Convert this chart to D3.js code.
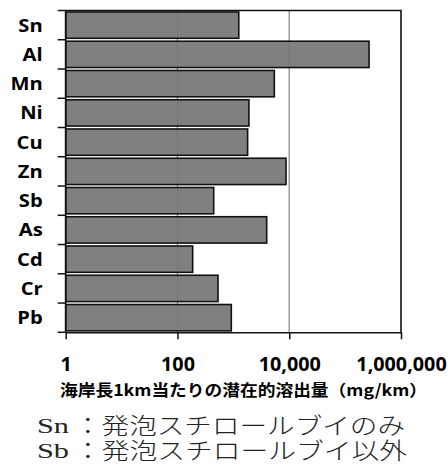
<!DOCTYPE html>
<html>
<head>
<meta charset="utf-8">
<script src="https://cdn.jsdelivr.net/npm/d3@7"></script>
<style>
  html, body { margin: 0; padding: 0; background: #fff; }
  svg { display: block; }
</style>
</head>
<body>
<svg id="chart" width="448" height="475"></svg>
<script>
// Potential leaching per 1 km of coastline, by element (log scale)
const categories = ["Sn", "Al", "Mn", "Ni", "Cu", "Zn", "Sb", "As", "Cd", "Cr", "Pb"];
const values = [1250, 268000, 5410, 1900, 1800, 8750, 445, 3950, 187, 531, 919];
const xTicks = [1, 100, 10000, 1000000];
const xTickLabels = ["1", "100", "10,000", "1,000,000"];
const axisTitle = "海岸長1km当たりの潜在的溶出量（mg/km）";
const noteKeys = ["Sn", "Sb"];
const noteTexts = ["：発泡スチロールブイのみ", "：発泡スチロールブイ以外"];

const svg = d3.select("#chart");
const plot = { left: 65.7, right: 401, top: 10.5, bottom: 332.3 };

const x = d3.scaleLog().domain([1, 1000000]).range([plot.left, plot.right]);
const y = d3.scaleBand().domain(categories)
  .range([plot.top, plot.bottom]).paddingInner(0.1).paddingOuter(0.05);

// widen a text run to the given horizontal factor
function stretch(sel, k) {
  sel.each(function () {
    const w = this.getComputedTextLength();
    d3.select(this).attr("textLength", w * k).attr("lengthAdjust", "spacingAndGlyphs");
  });
}

// vertical gridlines behind the bars
svg.append("g").selectAll("line")
  .data(xTicks.slice(1, -1)).join("line")
  .attr("x1", d => x(d)).attr("x2", d => x(d))
  .attr("y1", plot.top).attr("y2", plot.bottom)
  .attr("stroke", "#a6a6a6").attr("stroke-width", 1.5);

// bars
svg.append("g").selectAll("rect")
  .data(categories).join("rect")
  .attr("x", x(1))
  .attr("y", d => y(d))
  .attr("width", (d, i) => x(values[i]) - x(1))
  .attr("height", y.bandwidth())
  .attr("fill", "#808080")
  .attr("stroke", "#111")
  .attr("stroke-width", 1.6);

// faint gridline trace showing through the bars
svg.append("g").selectAll("line")
  .data(xTicks.slice(1, -1)).join("line")
  .attr("x1", d => x(d)).attr("x2", d => x(d))
  .attr("y1", plot.top).attr("y2", plot.bottom)
  .attr("stroke", "#000").attr("stroke-opacity", 0.08).attr("stroke-width", 1);

// plot frame (top and right edges)
svg.append("path")
  .attr("d", `M${plot.left},${plot.top}H${plot.right}V${plot.bottom}`)
  .attr("fill", "none").attr("stroke", "#111").attr("stroke-width", 1.6);

// bottom axis
const xAxis = svg.append("g")
  .attr("transform", `translate(0,${plot.bottom})`)
  .call(d3.axisBottom(x).tickValues(xTicks)
    .tickFormat((d, i) => xTickLabels[i]).tickSize(7).tickSizeOuter(0));
xAxis.select(".domain").attr("stroke", "#111").attr("stroke-width", 1.6);
xAxis.selectAll(".tick line").attr("stroke", "#111").attr("stroke-width", 1.5);
xAxis.selectAll(".tick text")
  .attr("y", 38.3).attr("dy", 0)
  .attr("fill", "#000")
  .style("font-family", "'Open Sans', sans-serif")
  .style("font-weight", 700).style("font-size", "19px")
  .call(stretch, 1.04);

// left axis: line, ticks at category boundaries, labels at band centres
const yAxis = svg.append("g");
yAxis.append("line")
  .attr("x1", plot.left).attr("x2", plot.left)
  .attr("y1", plot.top).attr("y2", plot.bottom)
  .attr("stroke", "#111").attr("stroke-width", 1.6);
const bounds = d3.range(categories.length + 1).map(i => plot.top + i * (plot.bottom - plot.top) / categories.length);
yAxis.selectAll("line.tick").data(bounds).join("line")
  .attr("class", "tick")
  .attr("x1", plot.left - 8).attr("x2", plot.left)
  .attr("y1", d => d).attr("y2", d => d)
  .attr("stroke", "#111").attr("stroke-width", 1.5);
yAxis.selectAll("text").data(categories).join("text")
  .attr("x", 42.7)
  .attr("y", d => y(d) + y.bandwidth() / 2 + 6.5)
  .attr("text-anchor", "end")
  .attr("fill", "#000")
  .style("font-family", "'Open Sans', sans-serif")
  .style("font-weight", 700).style("font-size", "18px")
  .text(d => d)
  .call(stretch, 1.12);

// axis title
svg.append("text")
  .attr("x", 243.5).attr("y", 396)
  .attr("text-anchor", "middle")
  .attr("fill", "#000")
  .style("font-family", "'Noto Sans CJK JP', sans-serif")
  .style("font-weight", 700).style("font-size", "16px")
  .attr("textLength", 367).attr("lengthAdjust", "spacingAndGlyphs")
  .text(axisTitle);

// notes below the chart
const notes = svg.append("g");
noteKeys.forEach((k, i) => {
  const base = 433.3 + i * 24.5;
  notes.append("text")
    .attr("x", 37).attr("y", base)
    .attr("fill", "#222")
    .style("font-family", "'Liberation Serif', serif")
    .style("font-size", "20px")
    .attr("textLength", 32).attr("lengthAdjust", "spacingAndGlyphs")
    .text(k);
  notes.append("text")
    .attr("x", 74).attr("y", base + 1)
    .attr("fill", "#222")
    .style("font-family", "'Noto Sans CJK JP', sans-serif")
    .style("font-weight", 300).style("font-size", "23px")
    .attr("textLength", i === 0 ? 331 : 333).attr("lengthAdjust", "spacingAndGlyphs")
    .text(noteTexts[i]);
});
</script>
</body>
</html>
